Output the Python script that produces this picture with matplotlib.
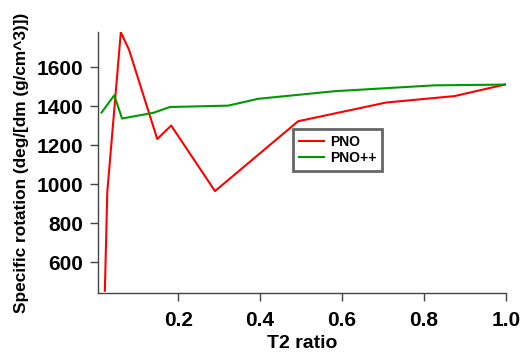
import matplotlib
matplotlib.use("Agg")
import matplotlib.pyplot as plt

# values
pno_x = [0.021, 0.027, 0.060, 0.080, 0.149, 0.183, 0.290, 0.493, 0.708, 0.875, 1.0]
pno_y = [453, 960, 1778, 1689, 1231, 1300, 964, 1322, 1418, 1451, 1511]

pnopp_x = [0.013, 0.044, 0.063, 0.139, 0.180, 0.322, 0.395, 0.582, 0.825, 1.0]
pnopp_y = [1367, 1455, 1336, 1365, 1395, 1402, 1437, 1476, 1506, 1510]

x_ticks = [0.2, 0.4, 0.6, 0.8, 1.0]
y_ticks = [600, 800, 1000, 1200, 1400, 1600]

plt.rcParams["font.family"] = ["Liberation Sans", "DejaVu Sans"]
plt.rcParams["font.weight"] = "bold"

fig = plt.figure(figsize=(5.26, 3.58), dpi=100)
ax = fig.add_axes([98.3 / 526, 1 - 293.3 / 358, 407.4 / 526, 261 / 358])

ax.plot(pno_x, pno_y, color="#ff0000", lw=1.5, label="PNO")
ax.plot(pnopp_x, pnopp_y, color="#009900", lw=1.5, label="PNO++")

ax.set_xlim(0.005, 1.0)
ax.set_ylim(440, 1778)
ax.set_xticks(x_ticks)
ax.set_xticklabels([f"{v:.1f}" for v in x_ticks])
ax.set_yticks(y_ticks)

for s in ("top", "right"):
    ax.spines[s].set_visible(False)
for s in ("left", "bottom"):
    ax.spines[s].set_color("#444444")
    ax.spines[s].set_linewidth(1.0)
ax.tick_params(direction="out", length=6, width=1.0, color="#444444",
               labelsize=15, pad=5)
ax.tick_params(axis="x", pad=7)
for lab in ax.get_xticklabels() + ax.get_yticklabels():
    lab.set_fontweight("bold")

ax.set_xlabel("T2 ratio", fontsize=14, fontweight="bold", labelpad=3)
ax.set_ylabel("Specific rotation (deg/[dm (g/cm^3)])", fontsize=12.4,
              fontweight="bold", labelpad=5)

leg = ax.legend(loc="lower left", bbox_to_anchor=(0.478, 0.469),
                fancybox=False, edgecolor="#666666", framealpha=1,
                prop={"weight": "bold", "size": 10}, handlelength=1.8,
                handletextpad=0.45, borderpad=0.4, labelspacing=0.2,
                borderaxespad=0)
leg.get_frame().set_linewidth(2.0)

fig.savefig("out.png", dpi=100, facecolor="white")
